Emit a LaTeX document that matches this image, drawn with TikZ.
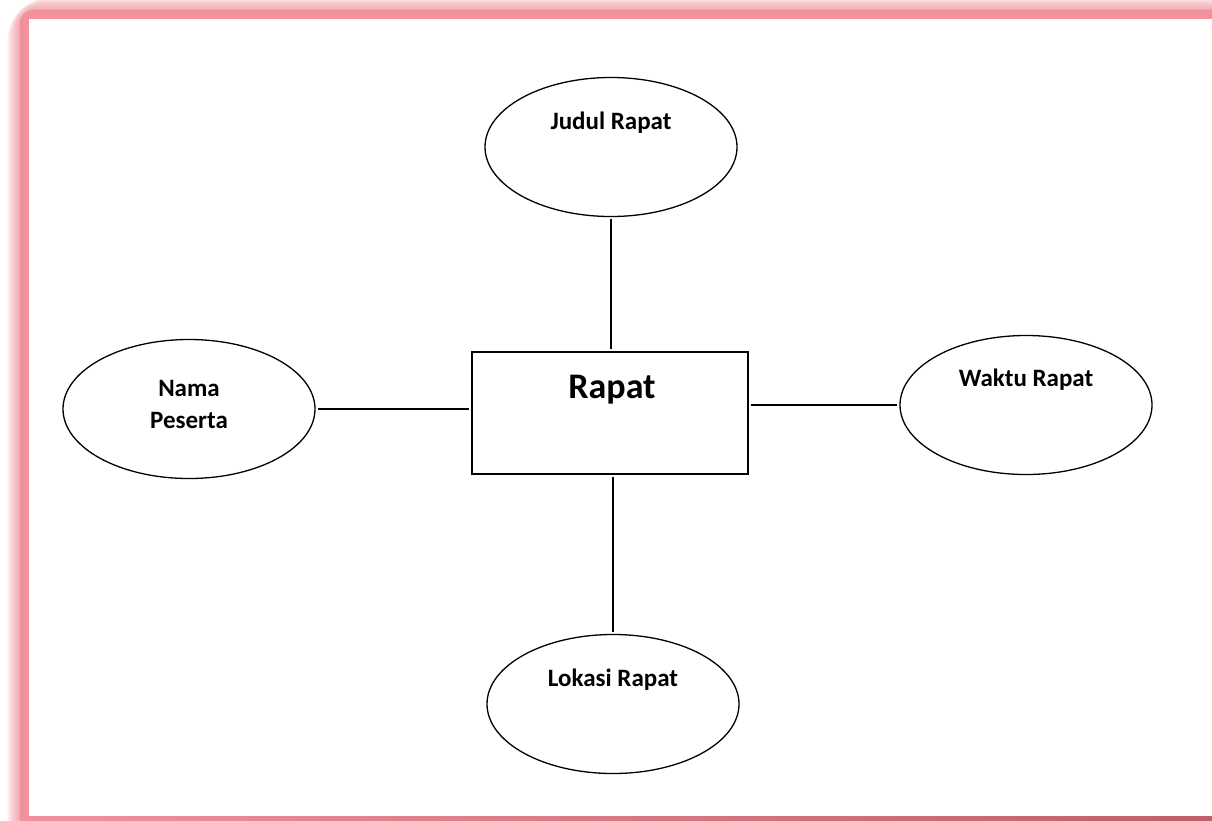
\documentclass[tikz,border=0pt]{standalone}
\usepackage{fontspec}
\setmainfont{Carlito}
\usepackage{tikz}
\usetikzlibrary{shapes.geometric}
\definecolor{framepink}{RGB}{240,145,155}
\definecolor{framerose}{RGB}{190,95,104}

\begin{document}
\begin{tikzpicture}[x=1pt,y=-1pt,
	attr/.style={ellipse,draw,line width=1.3pt,minimum width=252pt,minimum height=139pt,inner sep=0},
	entity/.style={rectangle,draw,line width=1.3pt,minimum width=276pt,minimum height=122pt,inner sep=0},
	lbl/.style={font=\bfseries\fontsize{25}{32}\selectfont,align=center},
	link/.style={line width=1.3pt,shorten <=2pt,shorten >=2pt}]
	\useasboundingbox (0,0) rectangle (1212,820);
	% pink frame
	\foreach \i in {0,...,8}
		\draw[framepink,opacity=0.14,line width={10pt+3pt*\i},rounded corners={10pt+2pt*\i}] (24.5,840) -- (24.5,14.5) -- (1240,14.5);
	\draw[framepink,line width=10pt,rounded corners=10pt] (24.5,840) -- (24.5,14.5) -- (1240,14.5);
	\fill[white] (29,19) rectangle (1240,816);
	\shade[left color=framepink,right color=framerose] (20,816) rectangle (1240,830);
	% entity and attributes
	\node[entity] (rapat) at (610,413) {};
	\node[attr] (judul) at (611,147) {};
	\node[attr] (nama) at (189,409) {};
	\node[attr] (waktu) at (1026,405) {};
	\node[attr] (lokasi) at (613,704) {};
	\node[font=\bfseries\fontsize{36}{40}\selectfont] (rapat-t) at (612,390) {Rapat};
	\node[lbl] (judul-t) at (611,123) {Judul Rapat};
	\node[lbl] (nama-t) at (189,404) {Nama\\Peserta};
	\node[lbl] (waktu-t) at (1026,380) {Waktu Rapat};
	\node[lbl] (lokasi-t) at (613,680) {Lokasi Rapat};
	\draw[link] (judul.south) -- (judul.south |- rapat.north);
	\draw[link] (nama.east) -- (nama.east -| rapat.west);
	\draw[link] (rapat.east |- waktu.west) -- (waktu.west);
	\draw[link] (rapat.south -| lokasi.north) -- (lokasi.north);
\end{tikzpicture}
\end{document}
